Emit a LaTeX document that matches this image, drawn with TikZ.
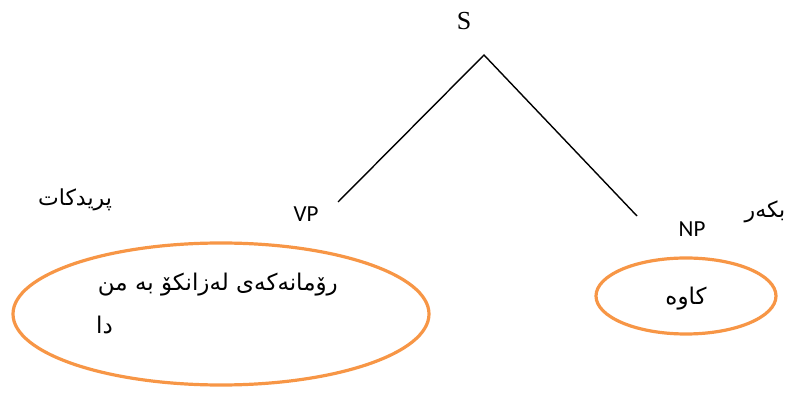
\documentclass[tikz,border=0pt]{standalone}
\usepackage{fontspec}
\setmainfont{Liberation Serif}
\newfontfamily\labfont{Carlito}
\newfontfamily\arabicfont[Script=Arabic]{DejaVu Sans}
\TeXXeTstate=1
\definecolor{ellorange}{HTML}{F79646}
\begin{document}
\begin{tikzpicture}[x=1pt,y=-1pt,
  ell/.style={draw=ellorange,line width=3.2pt},
  branch/.style={draw=black,line width=1.4pt},
  cat/.style={font=\labfont\fontsize{23}{26}\selectfont,inner sep=0pt},
  ar/.style={font=\arabicfont\fontsize{22}{26}\selectfont,inner sep=0pt},
  arbig/.style={font=\arabicfont\fontsize{23}{27}\selectfont,inner sep=0pt}]
\useasboundingbox (0,0) rectangle (790,403);
\node[inner sep=0pt,font=\fontsize{26}{30}\selectfont] (s) at (464,21) {S};
\coordinate (apex) at (484,55);
\coordinate (vpend) at (338,202);
\coordinate (npend) at (637,216);
\draw[branch] (vpend) -- (apex) -- (npend);
\node[cat] (vp) at (306,214) {VP};
\node[cat] (np) at (692,229) {NP};
\node[ar] (pred) at (75,200) {\beginR پریدکات\endR};
\node[ar] (subj) at (765,212) {\beginR بکەر\endR};
\draw[ell] (221,314) ellipse [x radius=208, y radius=71];
\draw[ell] (686,296) ellipse [x radius=90, y radius=38];
\node[arbig,anchor=east] (l1) at (338,285) {\beginR رۆمانەکەی لەزانکۆ بە من\endR};
\node[arbig,anchor=west] (l2) at (96,325) {\beginR دا\endR};
\node[arbig] (kawa) at (686,299) {\beginR کاوە\endR};
\end{tikzpicture}
\end{document}
